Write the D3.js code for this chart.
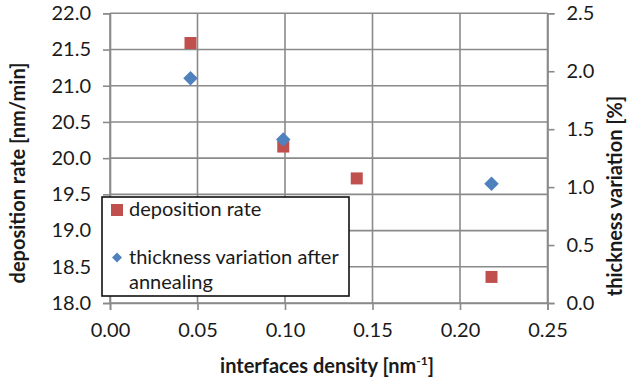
<!DOCTYPE html>
<html>
<head>
<meta charset="utf-8">
<script src="https://cdn.jsdelivr.net/npm/d3@7"></script>
<style>
body { margin: 0; background: #fff; }
svg { font-family: Lato, "Open Sans", sans-serif; }
</style>
</head>
<body>
<script>
(function(){

// series data
var densityDep = [0.046, 0.099, 0.141, 0.218];
var depRate = [21.59, 20.16, 19.72, 18.36];
var densityThk = [0.046, 0.099, 0.218];
var thkVar = [1.94, 1.41, 1.03];

// tick values
var xTicks = [0, 0.05, 0.10, 0.15, 0.20, 0.25];
var yLeftTicks = [18.0, 18.5, 19.0, 19.5, 20.0, 20.5, 21.0, 21.5, 22.0];
var yRightTicks = [0.0, 0.5, 1.0, 1.5, 2.0, 2.5];

// legend labels
var legendLabels = ["deposition rate", "thickness variation after", "annealing"];

// frame
var width = 630, height = 385,
    left = 110, right = 547.5, top = 13.3, bottom = 303;

var gridColor = "#8a8a8a",
    textColor = "#1a1a1a",
    red = "#C0504D",
    blue = "#4F81BD";

var svg = d3.select("body")
    .append("svg")
    .attr("width", width)
    .attr("height", height);

var x = d3.scaleLinear().domain([0, 0.25]).range([left, right]);
var yL = d3.scaleLinear().domain([18, 22]).range([bottom, top]);
var yR = d3.scaleLinear().domain([0, 2.5]).range([bottom, top]);

// gridlines
svg.append("g")
    .selectAll("line")
    .data(yLeftTicks)
    .enter()
    .append("line")
    .attr("x1", left).attr("x2", right)
    .attr("y1", function(d){ return yL(d); })
    .attr("y2", function(d){ return yL(d); })
    .attr("stroke", gridColor)
    .attr("stroke-width", 1.6);

svg.append("g")
    .selectAll("line")
    .data(xTicks)
    .enter()
    .append("line")
    .attr("y1", top).attr("y2", bottom)
    .attr("x1", function(d){ return x(d); })
    .attr("x2", function(d){ return x(d); })
    .attr("stroke", gridColor)
    .attr("stroke-width", 1.6);

// axes
var fmt1 = d3.format(".1f"), fmt2 = d3.format(".2f");

var xAxis = svg.append("g")
    .attr("transform", "translate(0," + bottom + ")")
    .call(d3.axisBottom(x).tickValues(xTicks).tickFormat(fmt2).tickSize(7).tickPadding(13));

var leftAxis = svg.append("g")
    .attr("transform", "translate(" + left + ",0)")
    .call(d3.axisLeft(yL).tickValues(yLeftTicks).tickFormat(fmt1).tickSize(7).tickPadding(12));

var rightAxis = svg.append("g")
    .attr("transform", "translate(" + right + ",0)")
    .call(d3.axisRight(yR).tickValues(yRightTicks).tickFormat(fmt1).tickSize(7).tickPadding(12));

[xAxis, leftAxis, rightAxis].forEach(function(ax){
    ax.select(".domain").attr("stroke", gridColor).attr("stroke-width", 1.6);
    ax.selectAll(".tick line").attr("stroke", gridColor).attr("stroke-width", 1.6);
    ax.selectAll(".tick text")
        .attr("fill", textColor)
        .style("font-size", "20px")
        .style("font-family", "Lato, sans-serif");
});

// axis titles
svg.append("text")
    .attr("transform", "translate(25,173) rotate(-90)")
    .attr("text-anchor", "middle")
    .style("font-size", "20px")
    .style("font-weight", "bold")
    .attr("fill", textColor)
    .text("deposition rate [nm/min]");

svg.append("text")
    .attr("transform", "translate(622,196) rotate(-90)")
    .attr("text-anchor", "middle")
    .style("font-size", "20px")
    .style("font-weight", "bold")
    .attr("fill", textColor)
    .text("thickness variation [%]");

var xTitle = svg.append("text")
    .attr("x", 327)
    .attr("y", 373)
    .attr("text-anchor", "middle")
    .style("font-size", "20px")
    .style("font-weight", "bold")
    .attr("fill", textColor);
xTitle.append("tspan").text("interfaces density [nm");
xTitle.append("tspan").attr("dy", -8).style("font-size", "12px").text("-1");
xTitle.append("tspan").attr("dy", 8).text("]");

// deposition rate squares
var sq = 12;
svg.append("g")
    .selectAll("rect")
    .data(d3.range(densityDep.length))
    .enter()
    .append("rect")
    .attr("x", function(i){ return x(densityDep[i]) - sq / 2; })
    .attr("y", function(i){ return yL(depRate[i]) - sq / 2; })
    .attr("width", sq)
    .attr("height", sq)
    .attr("fill", red);

// thickness variation diamonds
var diamond = d3.symbol().type(d3.symbolDiamond2).size(134);
svg.append("g")
    .selectAll("path")
    .data(d3.range(densityThk.length))
    .enter()
    .append("path")
    .attr("d", diamond)
    .attr("transform", function(i){
        return "translate(" + x(densityThk[i]) + "," + yR(thkVar[i]) + ")";
    })
    .attr("fill", blue);

// legend
var legend = svg.append("g");
legend.append("rect")
    .attr("x", 102).attr("y", 197)
    .attr("width", 247).attr("height", 99)
    .attr("fill", "#fff")
    .attr("stroke", "#111")
    .attr("stroke-width", 1.6);

legend.append("rect")
    .attr("x", 111).attr("y", 204)
    .attr("width", 12).attr("height", 12)
    .attr("fill", red);

legend.append("path")
    .attr("d", d3.symbol().type(d3.symbolDiamond2).size(64))
    .attr("transform", "translate(117,257.5)")
    .attr("fill", blue);

legend.selectAll("text")
    .data(legendLabels)
    .enter()
    .append("text")
    .attr("x", 129)
    .attr("y", function(d, i){ return [216, 264, 289][i]; })
    .style("font-size", "20px")
    .attr("fill", textColor)
    .text(function(d){ return d; });

})();
</script>
</body>
</html>
